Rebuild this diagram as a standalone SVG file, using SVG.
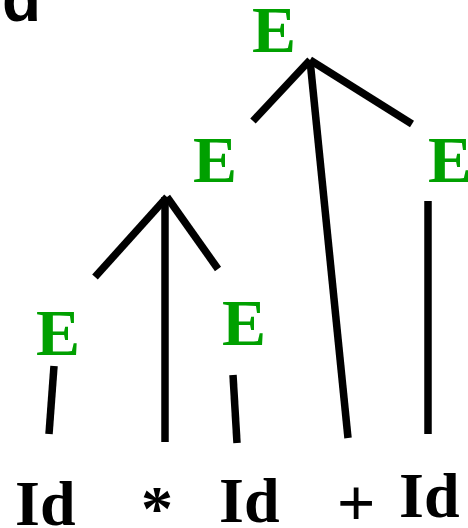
<svg xmlns="http://www.w3.org/2000/svg" width="468" height="528" viewBox="0 0 468 528">
<style>
.nt{font-family:"Liberation Serif","Times New Roman",serif;font-weight:bold;font-size:66px;fill:#00a000}
.t{font-family:"Liberation Serif","Times New Roman",serif;font-weight:bold;font-size:64px;fill:#000}
.e{stroke:#000;stroke-width:7.5;fill:none;stroke-linecap:butt}
</style>
<rect width="468" height="528" fill="#fff"/>
<text x="2" y="21" style="font-family:'Liberation Sans',Arial,sans-serif;font-weight:bold;font-size:64px;fill:#000">d</text>
<g id="connectors">
<line class="e" x1="310" y1="60" x2="253" y2="121"/>
<line class="e" x1="310" y1="60" x2="348" y2="438"/>
<line class="e" x1="310" y1="60" x2="412" y2="124"/>
<line class="e" x1="167" y1="197" x2="95" y2="277"/>
<line class="e" x1="165" y1="197" x2="165" y2="442"/>
<line class="e" x1="167" y1="197" x2="218" y2="269"/>
<line class="e" x1="54" y1="366" x2="49" y2="434"/>
<line class="e" x1="233" y1="375" x2="237" y2="443"/>
<line class="e" x1="428" y1="201" x2="428" y2="434"/>
</g>
<g id="E0"><text class="nt" x="252" y="52">E</text></g>
<g id="E1"><text class="nt" x="193" y="182">E</text></g>
<g id="E2"><text class="nt" x="428" y="182">E</text></g>
<g id="E3"><text class="nt" x="36" y="355">E</text></g>
<g id="E4"><text class="nt" x="222" y="345">E</text></g>
<g id="id1"><text class="t" x="15" y="525">Id</text></g>
<g id="star"><text class="t" x="157" y="530" text-anchor="middle">*</text></g>
<g id="id2"><text class="t" x="219" y="522">Id</text></g>
<g id="plus"><text class="t" x="356" y="526" text-anchor="middle" style="font-size:68px">+</text></g>
<g id="id3"><text class="t" x="399" y="517">Id</text></g>
</svg>
